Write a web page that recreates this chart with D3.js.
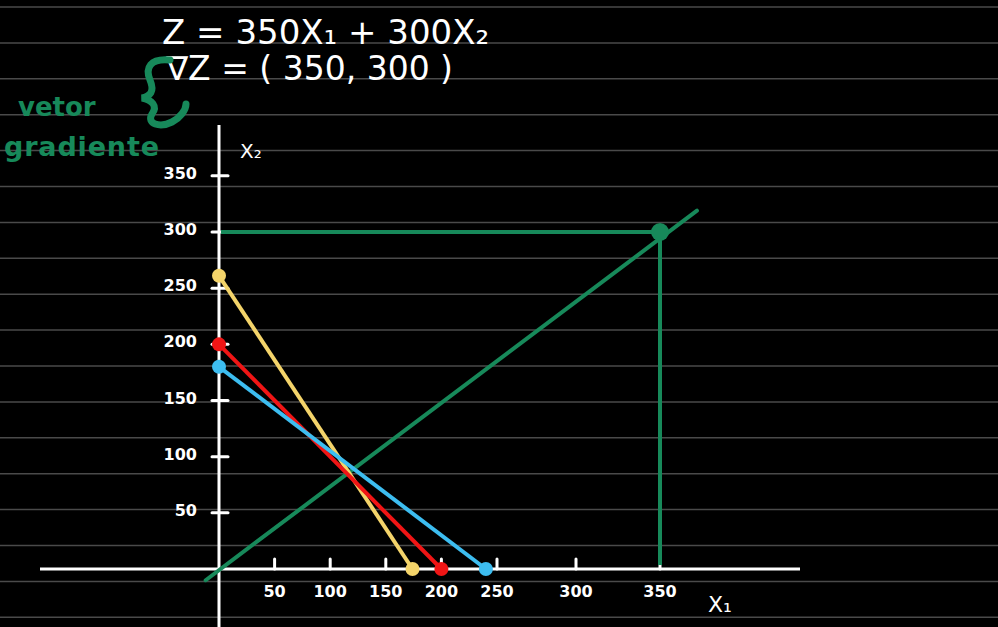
<!DOCTYPE html>
<html>
<head>
<meta charset="utf-8">
<script src="https://cdn.jsdelivr.net/npm/d3@7"></script>
<style>
  body { margin: 0; background: #000; overflow: hidden; }
</style>
</head>
<body>
<script>
const width = 998;
const height = 627;

// tick values drawn on each axis
const xTicks = [50, 100, 150, 200, 250, 300, 350];
const yTicks = [50, 100, 150, 200, 250, 300, 350];

// constraint lines: intercepts on x2 axis and x1 axis
const constraints = [
    { name: '9x1+6x2<=1566', x2: 261, x1: 174, color: '#f4d46a' },
    { name: 'x1+x2<=200', x2: 200, x1: 200, color: '#f01515' },
    { name: '12x1+16x2<=2880', x2: 180, x1: 240, color: '#3dbdf0' }
];

// gradient vector of Z
const gradient = [350, 300];
const gradientLine = [[-12, -10], [372, 319]];

const green = '#17895a';

// hand drawn axis is not evenly spaced, hence the extra stops
const x = d3.scaleLinear()
    .domain([0, 250, 300, 350])
    .range([219, 497, 576, 660]);

const y = d3.scaleLinear()
    .domain([0, 300])
    .range([569, 232]);

const svg = d3.create('svg')
    .attr('width', width)
    .attr('height', height)
    .style('background', '#000')
    .attr('font-family', 'DejaVu Sans, sans-serif');

// ruled notebook lines
svg.append('g')
    .selectAll('line')
    .data(d3.range(18))
    .join('line')
    .attr('x1', 0)
    .attr('x2', width)
    .attr('y1', i => 7 + i * 35.9)
    .attr('y2', i => 7 + i * 35.9)
    .attr('stroke', '#4a4a4a')
    .attr('stroke-width', 1.5);

// equations
svg.append('text')
    .attr('x', 162)
    .attr('y', 44)
    .attr('fill', '#fff')
    .attr('font-size', 34)
    .text('Z = 350X₁ + 300X₂');

svg.append('text')
    .attr('x', 166)
    .attr('y', 80)
    .attr('fill', '#fff')
    .attr('font-size', 33)
    .text('∇Z = ( 350, 300 )');

svg.append('text')
    .attr('x', 18)
    .attr('y', 116)
    .attr('fill', green)
    .attr('font-size', 26)
    .attr('font-weight', 'bold')
    .text('vetor');

svg.append('text')
    .attr('x', 4)
    .attr('y', 156)
    .attr('fill', green)
    .attr('font-size', 27)
    .attr('font-weight', 'bold')
    .attr('textLength', 155)
    .text('gradiente');

// brace
svg.append('path')
    .attr('d', 'M170,60 C150,58 145,68 150,80 C155,92 150,96 142,98 C152,100 158,106 152,114 C146,124 160,128 172,122 C180,118 186,110 186,104')
    .attr('fill', 'none')
    .attr('stroke', green)
    .attr('stroke-width', 7)
    .attr('stroke-linecap', 'round');

// axes
svg.append('line')
    .attr('x1', x(0)).attr('x2', x(0))
    .attr('y1', 125).attr('y2', height)
    .attr('stroke', '#fff')
    .attr('stroke-width', 3);

svg.append('line')
    .attr('x1', 40).attr('x2', 800)
    .attr('y1', y(0)).attr('y2', y(0))
    .attr('stroke', '#fff')
    .attr('stroke-width', 3);

svg.append('g')
    .selectAll('line')
    .data(yTicks)
    .join('line')
    .attr('x1', x(0) - 7)
    .attr('x2', x(0) + 9)
    .attr('y1', d => y(d))
    .attr('y2', d => y(d))
    .attr('stroke', '#fff')
    .attr('stroke-width', 3)
    .attr('stroke-linecap', 'round');

svg.append('g')
    .selectAll('text')
    .data(yTicks)
    .join('text')
    .attr('x', x(0) - 22)
    .attr('y', d => y(d) + 3)
    .attr('text-anchor', 'end')
    .attr('fill', '#fff')
    .attr('font-size', 16)
    .attr('font-weight', 'bold')
    .text(d => d);

svg.append('g')
    .selectAll('line')
    .data(xTicks)
    .join('line')
    .attr('x1', d => x(d))
    .attr('x2', d => x(d))
    .attr('y1', y(0) - 10)
    .attr('y2', y(0))
    .attr('stroke', '#fff')
    .attr('stroke-width', 3)
    .attr('stroke-linecap', 'round');

svg.append('g')
    .selectAll('text')
    .data(xTicks)
    .join('text')
    .attr('x', d => x(d))
    .attr('y', y(0) + 28)
    .attr('text-anchor', 'middle')
    .attr('fill', '#fff')
    .attr('font-size', 16)
    .attr('font-weight', 'bold')
    .text(d => d);

svg.append('text')
    .attr('x', 240)
    .attr('y', 158)
    .attr('fill', '#fff')
    .attr('font-size', 20)
    .text('X₂');

svg.append('text')
    .attr('x', 708)
    .attr('y', 612)
    .attr('fill', '#fff')
    .attr('font-size', 22)
    .text('X₁');

// green guide lines to the gradient point
svg.append('line')
    .attr('x1', x(0) + 2)
    .attr('x2', x(gradient[0]))
    .attr('y1', y(gradient[1]))
    .attr('y2', y(gradient[1]))
    .attr('stroke', green)
    .attr('stroke-width', 4);

svg.append('line')
    .attr('x1', x(gradient[0]))
    .attr('x2', x(gradient[0]))
    .attr('y1', y(gradient[1]))
    .attr('y2', y(0) - 4)
    .attr('stroke', green)
    .attr('stroke-width', 4);

svg.append('line')
    .attr('x1', x(gradientLine[0][0]))
    .attr('y1', y(gradientLine[0][1]))
    .attr('x2', x(gradientLine[1][0]))
    .attr('y2', y(gradientLine[1][1]))
    .attr('stroke', green)
    .attr('stroke-width', 4)
    .attr('stroke-linecap', 'round');

// constraint lines
const cons = svg.append('g')
    .selectAll('g')
    .data(constraints)
    .join('g');

cons.append('line')
    .attr('x1', x(0))
    .attr('y1', d => y(d.x2))
    .attr('x2', d => x(d.x1))
    .attr('y2', y(0))
    .attr('stroke', d => d.color)
    .attr('stroke-width', 4);

cons.append('circle')
    .attr('cx', x(0))
    .attr('cy', d => y(d.x2))
    .attr('r', 7)
    .attr('fill', d => d.color);

cons.append('circle')
    .attr('cx', d => x(d.x1))
    .attr('cy', y(0))
    .attr('r', 7)
    .attr('fill', d => d.color);

svg.append('circle')
    .attr('cx', x(gradient[0]))
    .attr('cy', y(gradient[1]))
    .attr('r', 9)
    .attr('fill', green);

document.querySelector('body').appendChild(svg.node());
</script>
</body>
</html>
